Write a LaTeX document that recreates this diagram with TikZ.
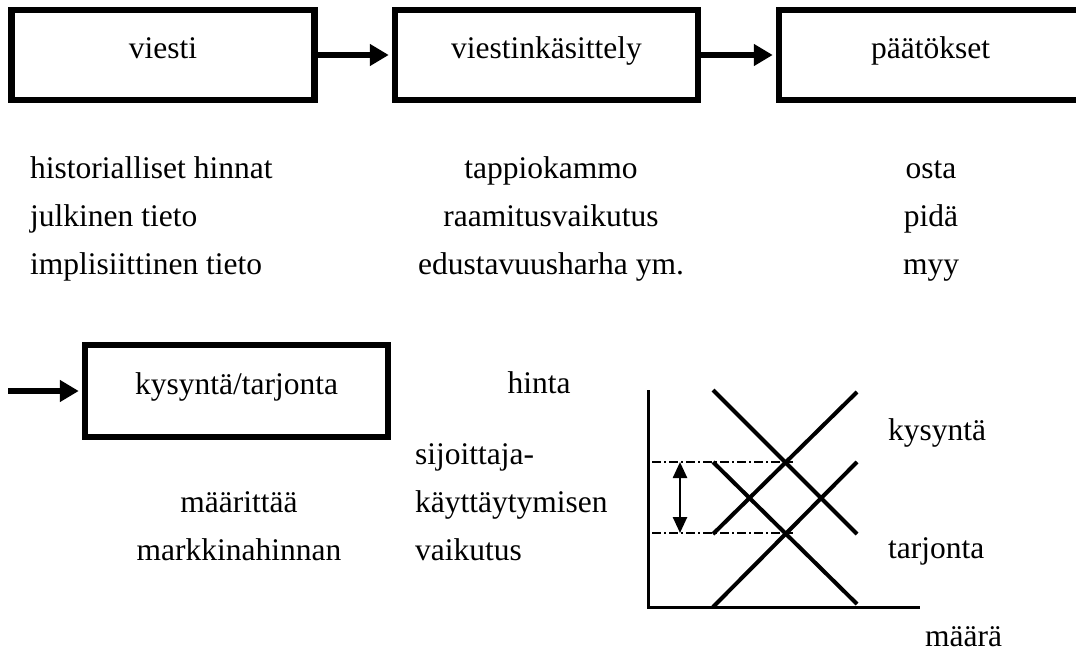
\documentclass[tikz,border=0pt]{standalone}
\usepackage{fontspec}
\setmainfont{Liberation Serif}
\usetikzlibrary{arrows.meta}
\tikzset{
  every node/.style={font=\fontsize{31.5}{37}\selectfont, inner sep=0pt},
  stagebox/.style={draw, line width=6.5pt, minimum width=303pt, minimum height=90pt,
    text height=1.0em, text depth=0.25em, anchor=center},
  flow/.style={line width=6pt, -{Triangle[length=19pt,width=21pt]}, shorten >=3pt},
  lbl/.style={anchor=base},
  lblw/.style={anchor=base west},
  curve/.style={line width=4pt},
  axis/.style={line width=3pt},
  guide/.style={line width=1.5pt, dash pattern=on 9pt off 3pt on 2pt off 3pt},
  span/.style={line width=2.5pt, {Triangle[length=16pt,width=14pt]}-{Triangle[length=16pt,width=14pt]}}
}
\begin{document}
\begin{tikzpicture}[x=1pt,y=-1pt]
\useasboundingbox (0,0) rectangle (1076,661);
\clip (0,0) rectangle (1076,661);
% top row boxes
\node[stagebox] (viesti) at (163,55) {viesti};
\node[stagebox] (kasittely) at (546.5,55) {viestinkäsittely};
\node[stagebox] (paatokset) at (930.5,55) {päätökset};
\draw[flow] (viesti.east) -- (kasittely.west);
\draw[flow] (kasittely.east) -- (paatokset.west);
% column texts
\node[lblw] (h1) at (30,178) {historialliset hinnat};
\node[lblw] (h2) at (30,226) {julkinen tieto};
\node[lblw] (h3) at (30,274) {implisiittinen tieto};
\node[lbl] (m1) at (551,178) {tappiokammo};
\node[lbl] (m2) at (551,226) {raamitusvaikutus};
\node[lbl] (m3) at (551,274) {edustavuusharha ym.};
\node[lbl] (p1) at (931,178) {osta};
\node[lbl] (p2) at (931,226) {pidä};
\node[lbl] (p3) at (931,274) {myy};
% bottom box
\node[stagebox, minimum height=92pt] (kt) at (236.5,391) {kysyntä/tarjonta};
\coordinate (kin) at (8,391);
\draw[flow] (kin) -- (kt.west);
\node[lbl] (mr1) at (239,512) {määrittää};
\node[lbl] (mr2) at (239,560) {markkinahinnan};
\node[lbl] (hinta) at (539,393) {hinta};
\node[lblw] (s1) at (415,464) {sijoittaja-};
\node[lblw] (s2) at (415,512) {käyttäytymisen};
\node[lblw] (s3) at (415,560) {vaikutus};
\node[lblw] (kys) at (888,440) {kysyntä};
\node[lblw] (tar) at (888,558) {tarjonta};
\node[lblw] (maara) at (925,646) {määrä};
% chart
\draw[axis] (648,390) -- (648,607) -- (920,607);
\draw[curve] (713,390) -- (857,534);
\draw[curve] (713,534) -- (857,392);
\draw[curve] (713,462) -- (857,604);
\draw[curve] (713,607) -- (857,462);
\draw[guide] (652,462) -- (793,462);
\draw[guide] (652,533) -- (793,533);
\draw[span] (680,462) -- (680,533);
\end{tikzpicture}
\end{document}
